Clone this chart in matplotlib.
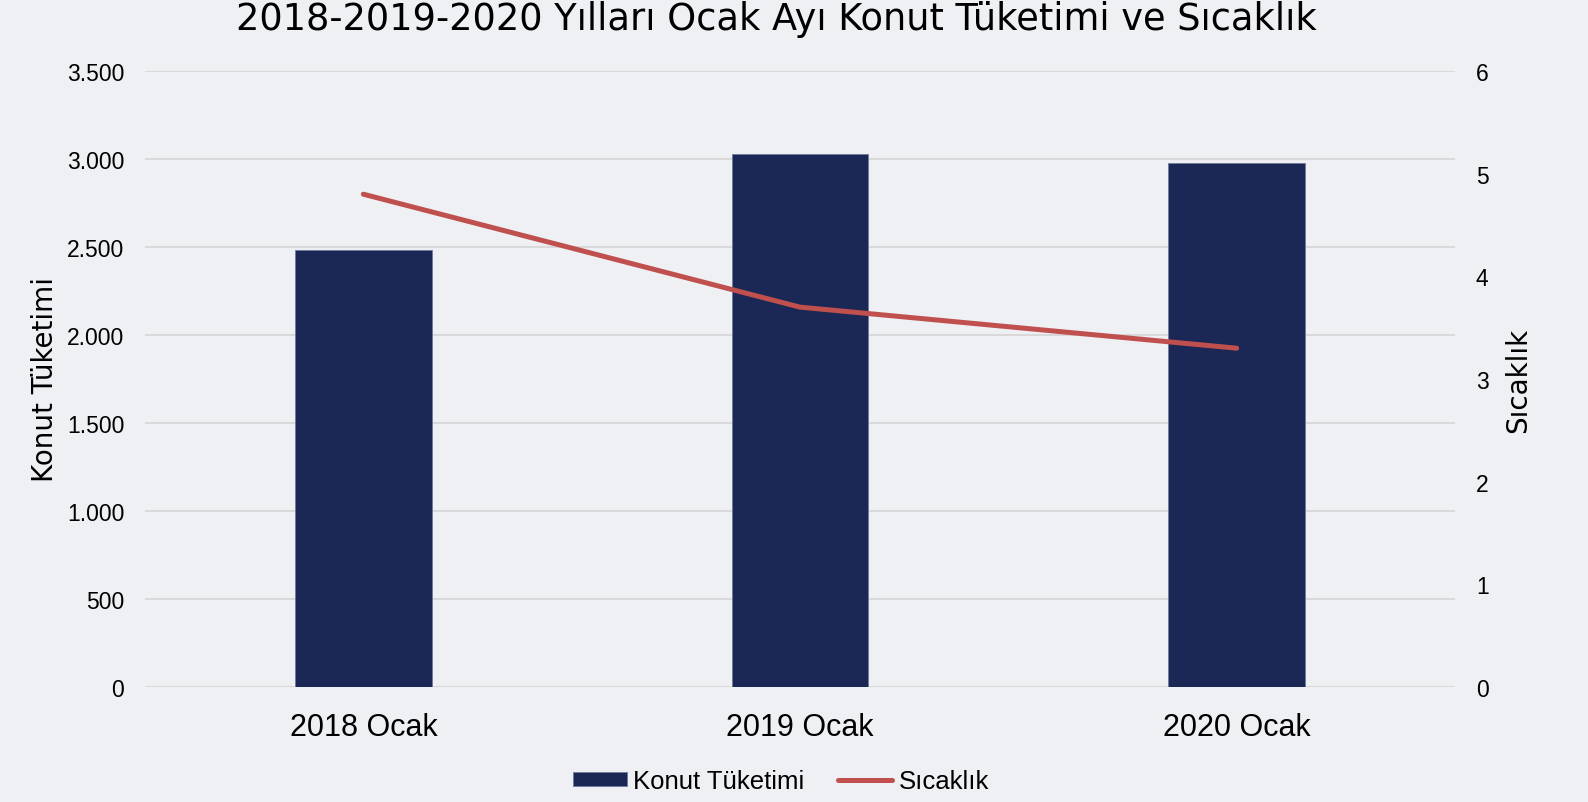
import matplotlib
matplotlib.use("Agg")
import matplotlib.pyplot as plt
from matplotlib.ticker import FuncFormatter

categories = ["2018 Ocak", "2019 Ocak", "2020 Ocak"]
konut_tuketimi = [2485, 3030, 2975]
sicaklik = [4.8, 3.7, 3.3]
left_ticks = [0, 500, 1000, 1500, 2000, 2500, 3000, 3500]
right_ticks = [0, 1, 2, 3, 4, 5, 6]

bg = "#eef0f4"
bar_color = "#1b2754"
line_color = "#c0504d"
grid_color = "#d9d9d9"

fig = plt.figure(figsize=(15.88, 8.03), dpi=100, facecolor=bg)
ax = fig.add_axes([145/1588, 1-688/803, 1310/1588, 616/803])
ax.set_facecolor(bg)
x = list(range(len(categories)))
ax.bar(x, konut_tuketimi, width=0.313, color=bar_color, edgecolor="#6f7a9c",
       linewidth=0.6, zorder=2, label="Konut Tüketimi")
ax.set_xlim(-0.5, 2.5)
ax.set_ylim(0, 3500)
ax.set_yticks(left_ticks)
ax.yaxis.set_major_formatter(FuncFormatter(lambda v, p: f"{int(v):,}".replace(",", ".")))
ax.grid(axis="y", color=grid_color, linewidth=1.5, zorder=0)
ax.set_axisbelow(True)
for s in ax.spines.values():
    s.set_visible(False)
ax.set_xticks(x)
ax.set_xticklabels(categories, fontsize=22, family="Liberation Sans")
ax.tick_params(axis="x", length=0, pad=18)
ax.tick_params(axis="y", length=0, pad=15, labelsize=16.5)
for t in ax.get_yticklabels():
    t.set_family("Liberation Sans")
ax.set_ylabel("Konut Tüketimi", fontsize=20, family="DejaVu Sans")
ax.yaxis.set_label_coords(-(145-59)/1310, 0.5)

ax2 = ax.twinx()
ax2.plot(x, sicaklik, color=line_color, linewidth=3.6, solid_capstyle="round",
         solid_joinstyle="round", zorder=3, label="Sıcaklık")
ax2.set_ylim(0, 6)
ax2.set_yticks(right_ticks)
for s in ax2.spines.values():
    s.set_visible(False)
ax2.tick_params(axis="y", length=0, pad=15, labelsize=16.5)
for t in ax2.get_yticklabels():
    t.set_family("Liberation Sans")
ax2.set_ylabel("Sıcaklık", fontsize=20, family="DejaVu Sans", rotation=90)
ax2.yaxis.set_label_coords(1 + (1504-1455)/1310, 0.5)

fig.text(776/1588, 1-20/803, "2018-2019-2020 Yılları Ocak Ayı Konut Tüketimi ve Sıcaklık",
         ha="center", va="center", fontsize=26.5, family="DejaVu Sans")

h1, l1 = ax.get_legend_handles_labels()
h2, l2 = ax2.get_legend_handles_labels()
leg = fig.legend(h1 + h2, l1 + l2, loc="center", bbox_to_anchor=(781/1588, 1-782/803),
                 ncol=2, frameon=False, prop={"family": "Liberation Sans", "size": 18.5},
                 handlelength=2.1, handleheight=0.5, handletextpad=0.25, columnspacing=1.3)

fig.savefig("out.png", dpi=100, facecolor=bg)
